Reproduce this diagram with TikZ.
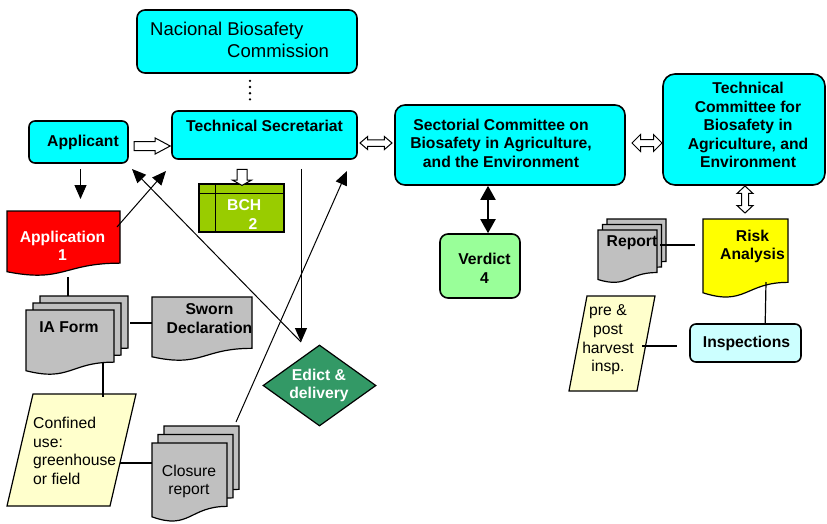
\documentclass[tikz,border=0pt]{standalone}
\usepackage{fontspec}
\setmainfont{Liberation Sans}
\usetikzlibrary{arrows.meta,shapes.geometric,shapes.arrows,calc}

\definecolor{boxcyan}{HTML}{00FFFF}
\definecolor{docgray}{HTML}{C0C0C0}
\definecolor{appred}{HTML}{FF0000}
\definecolor{riskyellow}{HTML}{FFFF00}
\definecolor{paleyellow}{HTML}{FFFFCC}
\definecolor{palecyan}{HTML}{CCFFFF}
\definecolor{verdictgreen}{HTML}{99FF99}
\definecolor{bchgreen}{HTML}{99CC00}
\definecolor{edictgreen}{HTML}{339966}

% Flow-chart "document" outline around a node, shifted up-right by (#3,#4) pt
\newcommand{\docoutline}[4][]{%
  \path[#1] let \p1=(#2.north west), \p2=(#2.south east) in
    ({\x1+#3pt},{\y1+#4pt}) -- ({\x2+#3pt},{\y1+#4pt})
    -- ({\x2+#3pt},{\y1+#4pt+0.802*(\y2-\y1)})
    .. controls ({0.5*(\x1+\x2)+#3pt},{\y1+#4pt+0.802*(\y2-\y1)})
            and ({0.5*(\x1+\x2)+#3pt},{\y1+#4pt+1.1075*(\y2-\y1)})
    .. ({\x1+#3pt},{\y1+#4pt+0.934*(\y2-\y1)}) -- cycle;}

% Parallelogram leaning right inside a node's box, top edge shifted by #3
\newcommand{\paraoutline}[3][]{%
  \path[#1] ($(#2.north west)+(#3,0)$) -- (#2.north east)
    -- ($(#2.south east)+(-#3,0)$) -- (#2.south west) -- cycle;}

\begin{document}
\begin{tikzpicture}[x=1pt,y=-1pt,
  lbl/.style={font=\fontsize{15.7}{18.6}\selectfont, align=center, inner sep=0pt},
  blbl/.style={lbl, font=\fontsize{15.7}{18.6}\selectfont\bfseries},
  rbox/.style={draw, line width=1.6pt, rounded corners=#1, fill=boxcyan, inner sep=0pt},
  rbox/.default=8pt,
  area/.style={inner sep=0pt, outer sep=0pt},
  shapeline/.style={draw, line width=1.2pt, fill=#1},
  link/.style={line width=1.2pt},
  pointer/.style={line width=1pt, -{Triangle[length=14pt,width=12pt]}},
  dpointer/.style={line width=2pt, {Triangle[length=14pt,width=15pt]}-{Triangle[length=14pt,width=15pt]}},
  dotty/.style={line width=2.6pt, line cap=round, dash pattern=on 0pt off 6.2pt},
  hsingle/.style={single arrow, draw, fill=white, line width=1pt, inner xsep=0pt},
  hdouble/.style={double arrow, draw, fill=white, line width=1pt, inner xsep=0pt},
]
\useasboundingbox (0,0) rectangle (827,523);

% ---------- rounded boxes ----------
\node[rbox=8pt, minimum width=220, minimum height=63] (ncb) at (247,41.5) {};
\node[rbox=6pt, minimum width=185, minimum height=48] (ts) at (264.5,135) {};
\node[rbox=6pt, minimum width=99, minimum height=42] (app) at (78.5,142) {};
\node[rbox=10pt, minimum width=230, minimum height=80] (sec) at (510,145) {};
\node[rbox=12pt, minimum width=162, minimum height=111] (tcb) at (744,129.5) {};
\node[rbox=8pt, fill=verdictgreen, minimum width=80, minimum height=64] (verd) at (480,266) {};
\node[rbox=6pt, fill=palecyan, minimum width=111, minimum height=38] (insp) at (745.5,343) {};

% ---------- BCH storage box ----------
\node[shapeline=bchgreen, minimum width=85, minimum height=48, inner sep=0pt] (bch) at (241.5,208) {};
\draw[line width=1.2pt] ($(bch.north west)+(0,10)$) -- ($(bch.north east)+(0,10)$);
\draw[line width=1.2pt] ($(bch.north west)+(17,0)$) -- ($(bch.south west)+(17,0)$);

% ---------- decision ----------
\node[diamond, shapeline=edictgreen, minimum width=113, minimum height=81, inner sep=0pt] (edict) at (319.5,385.5) {};

% ---------- document areas ----------
\node[area, minimum width=113, minimum height=65] (appl) at (63.5,243.5) {};
\node[area, minimum width=88, minimum height=65] (ia) at (70,342.5) {};
\node[area, minimum width=100, minimum height=64] (sworn) at (202,329) {};
\node[area, minimum width=75, minimum height=79] (clo) at (189.5,482.5) {};
\node[area, minimum width=59, minimum height=53] (rep) at (627.5,256.5) {};
\node[area, minimum width=85, minimum height=79] (risk) at (745.5,258.5) {};
\node[area, minimum width=129, minimum height=112] (conf) at (71.5,450) {};
\node[area, minimum width=86, minimum height=95] (phs) at (612,343.5) {};

\docoutline[shapeline=appred]{appl}{0}{0}
\docoutline[shapeline=docgray]{ia}{14}{14}
\docoutline[shapeline=docgray]{ia}{7}{7}
\docoutline[shapeline=docgray]{ia}{0}{0}
\docoutline[shapeline=docgray]{sworn}{0}{0}
\docoutline[shapeline=docgray]{clo}{12}{17}
\docoutline[shapeline=docgray]{clo}{6}{8.5}
\docoutline[shapeline=docgray]{clo}{0}{0}
\docoutline[shapeline=docgray]{rep}{9}{11}
\docoutline[shapeline=docgray]{rep}{4.5}{5.5}
\docoutline[shapeline=docgray]{rep}{0}{0}
\docoutline[shapeline=riskyellow]{risk}{0}{0}
\paraoutline[shapeline=paleyellow]{conf}{26}
\paraoutline[shapeline=paleyellow]{phs}{18}

% ---------- hollow block arrows ----------
\node[hsingle, minimum height=36, inner ysep=4pt, single arrow head extend=3.5pt, single arrow tip angle=56] (a-app-ts) at (148,146) {};
\node[hdouble, minimum height=32, inner ysep=2.75pt, double arrow head extend=3.25pt, double arrow tip angle=81] (a-ts-sec) at (376,143) {};
\node[hdouble, minimum height=30, inner ysep=3pt, double arrow head extend=5pt, double arrow tip angle=90] (a-sec-tcb) at (647,143) {};
\node[hdouble, rotate=90, minimum height=27, inner ysep=3pt, double arrow head extend=4.5pt, double arrow tip angle=94] (a-tcb-risk) at (745,199.5) {};
\node[hsingle, rotate=-90, minimum height=16, inner ysep=4.5pt, single arrow head extend=4.5pt, single arrow tip angle=122] (a-ts-bch) at (242,176) {};

% ---------- connector ends ----------
\coordinate (dotcol) at (250,0);
\coordinate (vcol) at (488,0);
\coordinate (ts-in-a) at (166,171);
\coordinate (app-in) at (132,169);
\coordinate (ts-in-c) at (347,171);
\coordinate (edict-in) at (301,342);

% ---------- connectors ----------
\draw[dotty] ($(ncb.south -| dotcol)+(0,7)$) -- ($(ts.north -| dotcol)+(0,-5)$);
\draw[pointer] ($(app.south)+(2,5)$) -- ($(appl.north)+(17,-12)$);
\draw[pointer] ($(appl.north east)+(-3,16)$) -- (ts-in-a);
\draw[pointer] ($(ts.south -| edict-in)+(0,9)$) -- (edict-in);
\draw[pointer] (edict-in) -- (app-in);
\draw[pointer] ($(clo.north east)+(9,-21)$) -- (ts-in-c);
\draw[dpointer] (sec.south -| vcol) -- (verd.north -| vcol);

\draw[link] ($(appl.south)+(4.5,1)$) -- ($(ia.north)+(-2,-14)$);
\draw[link] ($(ia.north east)+(16,13)$) -- ($(sworn.north west)+(0,26)$);
\draw[link] ($(ia.south west)+(77,-12)$) -- ($(conf.north west)+(96,3)$);
\draw[link] ($(conf.north east)+(-16,69)$) -- ($(clo.west)+(0,-19.5)$);
\draw[link] ($(rep.east)+(3,-11.5)$) -- ($(risk.west)+(-8,-13.5)$);
\draw[link] ($(risk.north east)+(-22,63)$) -- ($(insp.north west)+(76,0)$);
\draw[link] ($(phs.east)+(-13,2.5)$) -- ($(insp.west)+(-12,3)$);

% ---------- texts ----------
\node[lbl, anchor=west, align=left, font=\fontsize{18.5}{22}\selectfont] (ncb-t) at (150,40) {Nacional Biosafety\\\hspace*{77pt}Commission};
\node[blbl] (ts-t) at (264.5,126) {Technical Secretariat};
\node[blbl] (app-t) at (83,142) {Applicant};
\node[blbl] (sec-t) at (501,143) {Sectorial Committee on\\Biosafety in Agriculture,\\and the Environment};
\node[blbl] (tcb-t) at (748,125) {Technical\\Committee for\\Biosafety in\\Agriculture, and\\Environment};
\node[blbl, text=white, anchor=west, align=left] (bch-t) at (227,214.5) {BCH\\\hspace*{21.5pt}2};
\node[blbl, text=white] (appl-t) at (62.5,246) {Application\\1};
\node[blbl] (verd-t) at (484.5,268.5) {Verdict\\4};
\node[blbl] (rep-t) at (632,243) {Report};
\node[blbl] (risk-t) at (752.5,246.5) {Risk\\Analysis};
\node[blbl] (insp-t) at (746.5,343) {Inspections};
\node[lbl] (phs-t) at (608,340) {pre \&\\post\\harvest\\insp.};
\node[blbl] (ia-t) at (69,327) {IA Form};
\node[blbl] (sworn-t) at (209.5,318.5) {Sworn\\Declaration};
\node[lbl, anchor=west, align=left] (conf-t) at (33,451) {Confined\\use:\\greenhouse\\or field};
\node[lbl] (clo-t) at (189,481.5) {Closure\\report};
\node[blbl, text=white] (edict-t) at (319,385.5) {Edict \&\\delivery};
\end{tikzpicture}
\end{document}
